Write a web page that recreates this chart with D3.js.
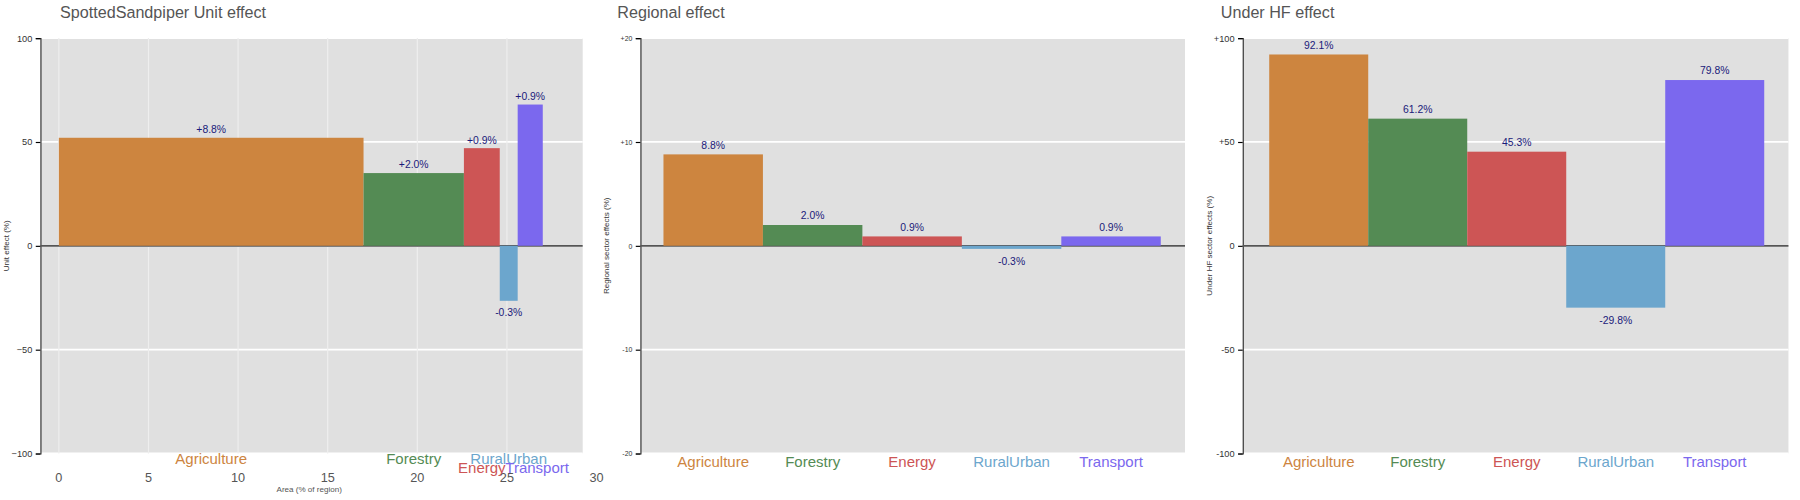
<!DOCTYPE html>
<html><head><meta charset="utf-8">
<script src="https://cdn.jsdelivr.net/npm/d3@7"></script>
<style>body{margin:0;background:#fff;font-family:Arial,"Liberation Sans",sans-serif}</style>
</head><body><div id="chart"></div>
<script>
// data
var sectors = ["Agriculture", "Forestry", "Energy", "RuralUrban", "Transport"];
var colours = ["#cd853f", "#548b54", "#cd5555", "#6ca6cd", "#7b68ee"];
var areaPct = [17.0, 5.6, 2.0, 1.0, 1.4];
var unitEffect = [52, 35, 47, -26.5, 68];
var unitLabels = ["+8.8%", "+2.0%", "+0.9%", "-0.3%", "+0.9%"];
var regionalEffect = [8.8, 2.0, 0.9, -0.3, 0.9];
var underHF = [92.1, 61.2, 45.3, -29.8, 79.8];
var xTicks1 = [0, 5, 10, 15, 20, 25, 30];

var root = d3.select("#chart").append("svg").attr("width", 1800).attr("height", 500);
var svg = root.append("g").attr("transform", "scale(" + (1800 / 1560) + ")");

var plotTop = 33, plotBottom = 393;

function frame(x0, x1, yDom, yTicks, fmt, title, titleX, ylab) {
  var y = d3.scaleLinear().domain(yDom).range([plotBottom, plotTop]);
  var g = svg.append("g");
  g.append("rect").attr("x", x0).attr("y", plotTop).attr("width", x1 - x0)
    .attr("height", plotBottom - plotTop).attr("fill", "#e0e0e0");
  g.selectAll(".hg").data(yTicks).enter().append("line")
    .attr("x1", x0).attr("x2", x1).attr("y1", d => y(d)).attr("y2", d => y(d))
    .attr("stroke", "#fff").attr("stroke-width", 1.5);
  var ax = g.append("g").attr("transform", "translate(" + x0 + ",0)")
    .call(d3.axisLeft(y).tickValues(yTicks).tickFormat(fmt).tickSize(4));
  ax.select(".domain").attr("stroke", "#333");
  ax.selectAll("text").attr("fill", "#333").style("font-size", yDom[1] == 20 ? "6px" : "8px");
  g.append("text").attr("x", titleX).attr("y", 16).text(title)
    .attr("fill", "#555").style("font-size", "14px");
  g.append("text").attr("transform", "translate(" + (x0 - 27) + "," + ((plotTop + plotBottom) / 2) + ") rotate(-90)")
    .attr("text-anchor", "middle").attr("fill", "#333").style("font-size", "7px").text(ylab);
  return {g: g, y: y};
}

// panel 1: bar widths by area
var p1 = frame(35, 505, [-100, 100], [-100, -50, 0, 50, 100], d3.format("d"),
  "SpottedSandpiper Unit effect", 52, "Unit effect (%)");
var x1 = d3.scaleLinear().domain([0, 30]).range([51, 517]);
p1.g.selectAll(".vg").data(xTicks1.slice(0, 6)).enter().append("line")
  .attr("x1", d => x1(d)).attr("x2", d => x1(d)).attr("y1", plotTop).attr("y2", plotBottom)
  .attr("stroke", "#eee").attr("stroke-width", 1);
p1.g.append("line").attr("x1", 35).attr("x2", 505).attr("y1", p1.y(0)).attr("y2", p1.y(0))
  .attr("stroke", "#555").attr("stroke-width", 1.5);
var starts = d3.cumsum([0].concat(areaPct.slice(0, -1)));
var bars1 = sectors.map((s, i) => ({s: s, c: colours[i], a: starts[i], w: areaPct[i], v: unitEffect[i], l: unitLabels[i]}));
p1.g.selectAll(".b").data(bars1).enter().append("rect")
  .attr("x", d => x1(d.a)).attr("width", d => x1(d.a + d.w) - x1(d.a))
  .attr("y", d => p1.y(Math.max(0, d.v))).attr("height", d => Math.abs(p1.y(d.v) - p1.y(0)))
  .attr("fill", d => d.c);
p1.g.selectAll(".vl").data(bars1).enter().append("text")
  .attr("x", d => x1(d.a + d.w / 2)).attr("y", d => d.v >= 0 ? p1.y(d.v) - 4 : p1.y(d.v) + 13)
  .attr("text-anchor", "middle").attr("fill", "#1a1a7a").style("font-size", "9px").text(d => d.l);
p1.g.selectAll(".cl").data(bars1).enter().append("text")
  .attr("x", d => x1(d.a + d.w / 2) + (d.s == "Transport" ? 6 : 0)).attr("y", (d, i) => i == 2 || i == 4 ? 410 : 402)
  .attr("text-anchor", "middle").attr("fill", d => d.c).style("font-size", "13px").text(d => d.s);
p1.g.selectAll(".xt").data(xTicks1).enter().append("text")
  .attr("x", d => x1(d)).attr("y", 418).attr("text-anchor", "middle")
  .attr("fill", "#555").style("font-size", "11px").text(d => d);
p1.g.append("text").attr("x", 268).attr("y", 426).attr("text-anchor", "middle")
  .attr("fill", "#555").style("font-size", "7px").text("Area (% of region)");

// band panels
function bandPanel(x0, x1e, bx0, bx1, yDom, yTicks, fmt, vals, title, titleX, ylab) {
  var p = frame(x0, x1e, yDom, yTicks, fmt, title, titleX, ylab);
  var x = d3.scaleBand().domain(sectors).range([bx0, bx1]).padding(0);
  p.g.append("line").attr("x1", x0).attr("x2", x1e).attr("y1", p.y(0)).attr("y2", p.y(0))
    .attr("stroke", "#555").attr("stroke-width", 1.5);
  var d = sectors.map((s, i) => ({s: s, c: colours[i], v: vals[i]}));
  p.g.selectAll(".b").data(d).enter().append("rect")
    .attr("x", e => x(e.s)).attr("width", x.bandwidth())
    .attr("y", e => p.y(Math.max(0, e.v))).attr("height", e => Math.abs(p.y(e.v) - p.y(0)))
    .attr("fill", e => e.c);
  p.g.selectAll(".vl").data(d).enter().append("text")
    .attr("x", e => x(e.s) + x.bandwidth() / 2).attr("y", e => e.v >= 0 ? p.y(e.v) - 5 : p.y(e.v) + 14)
    .attr("text-anchor", "middle").attr("fill", "#1a1a7a").style("font-size", "9px")
    .text(e => e.v.toFixed(1) + "%");
  p.g.selectAll(".cl").data(d).enter().append("text")
    .attr("x", e => x(e.s) + x.bandwidth() / 2).attr("y", 405)
    .attr("text-anchor", "middle").attr("fill", e => e.c).style("font-size", "13px").text(e => e.s);
}
var signFmt = v => v > 0 ? "+" + v : "" + v;
bandPanel(555, 1027, 575, 1006, [-20, 20], [-20, -10, 0, 10, 20], signFmt, regionalEffect,
  "Regional effect", 535, "Regional sector effects (%)");
bandPanel(1077, 1550, 1100, 1529, [-100, 100], [-100, -50, 0, 50, 100], signFmt, underHF,
  "Under HF effect", 1058, "Under HF sector effects (%)");
</script></body></html>
